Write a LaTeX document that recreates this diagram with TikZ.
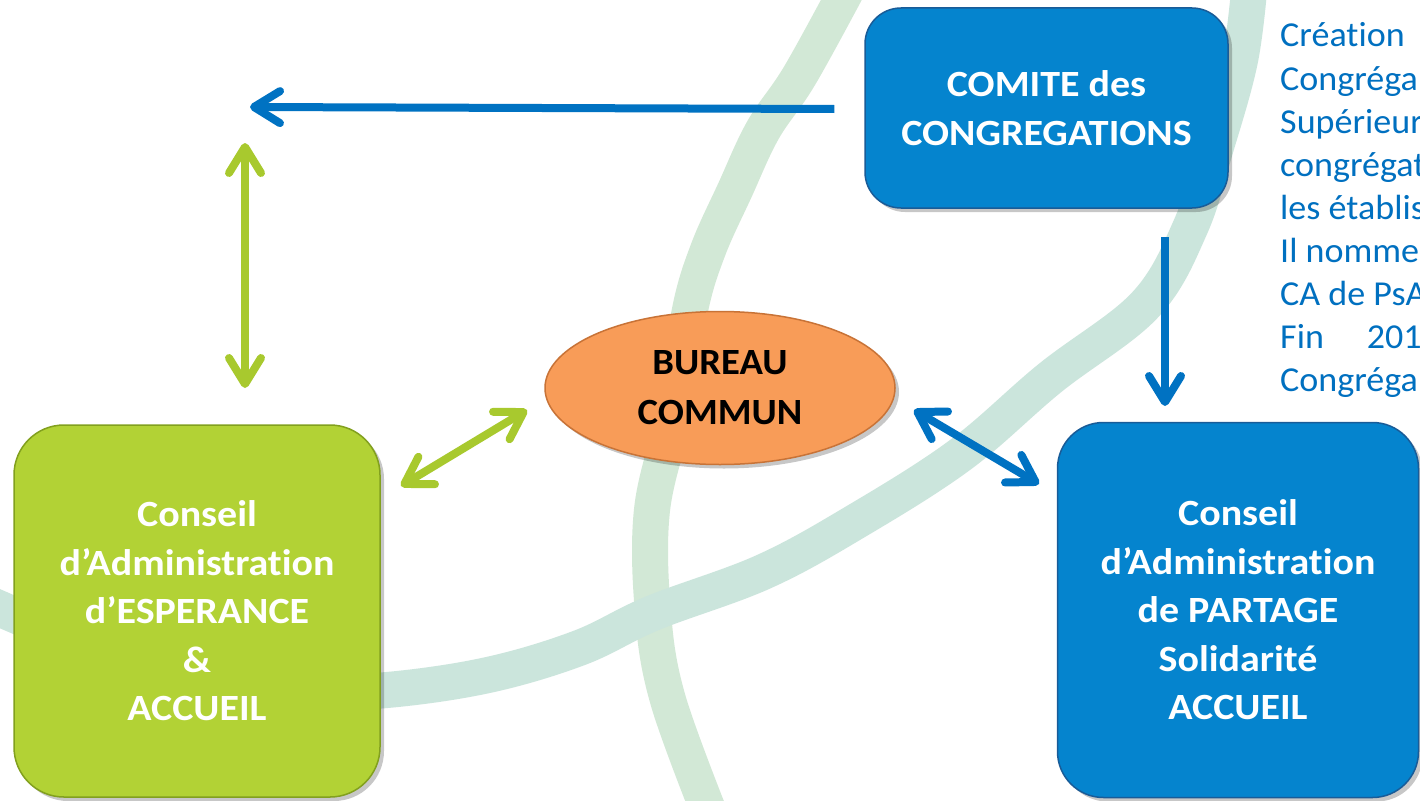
\documentclass[tikz,border=0pt]{standalone}
\usepackage{fontspec}
\setmainfont{Carlito}[Ligatures={NoCommon,NoContextual}]
\newfontfamily\boxfont{Carlito}[Ligatures={NoCommon,NoContextual}, FakeStretch=1.08]
\newfontfamily\ovalfont{Carlito}[Ligatures={NoCommon,NoContextual}, FakeStretch=1.045]
\newfontfamily\sidefont{Carlito}[Ligatures={NoCommon,NoContextual}, FakeStretch=1.03]
\usetikzlibrary{arrows.meta,shapes.geometric,shadows,calc}
\definecolor{bluebox}{RGB}{5,132,206}
\definecolor{blueedge}{RGB}{25,92,152}
\definecolor{greenbox}{RGB}{178,210,53}
\definecolor{greenedge}{RGB}{130,160,30}
\definecolor{orangefill}{RGB}{248,156,88}
\definecolor{orangeedge}{RGB}{200,115,55}
\definecolor{arrowblue}{RGB}{0,114,194}
\definecolor{arrowgreen}{RGB}{168,201,46}
\definecolor{textblue}{RGB}{0,112,192}
\definecolor{strokeA}{RGB}{210,232,214}
\definecolor{strokeB}{RGB}{203,229,220}
\begin{document}
\begin{tikzpicture}[x=1pt,y=-1pt,
  boxtext/.style={font=\boxfont\bfseries\fontsize{37}{48.5}\selectfont, align=center, inner sep=0pt},
  shadowed/.style={drop shadow={shadow xshift=4pt,shadow yshift=-4pt,opacity=0.22,fill=black}},
  greenstyle/.style={boxtext, text=white, rectangle, fill=greenbox, draw=greenedge, line width=1.5pt, shadowed},
  bluestyle/.style={boxtext, text=white, rectangle, fill=bluebox, draw=blueedge, line width=1.5pt, shadowed},
  ovalstyle/.style={font=\ovalfont\bfseries\fontsize{37}{50}\selectfont, align=center, inner sep=0pt, text=black, ellipse, fill=orangefill, draw=orangeedge, line width=1.5pt, shadowed},
  tip/.tip={Straight Barb[round,length=26pt,width=32pt]},
  bluearr/.style={draw=arrowblue, line width=8pt, line cap=round},
  greenarr/.style={draw=arrowgreen, line width=8pt, line cap=round},
  bgstroke/.style={line width=36pt, line cap=round, line join=round},
  sidetext/.style={anchor=base west, inner sep=0pt, font=\sidefont\fontsize{35}{43}\selectfont, text=textblue}
]
\useasboundingbox (0,0) rectangle (1420,800);
\clip (0,0) rectangle (1420,800);
\fill[white] (0,0) rectangle (1420,800);

% background brush strokes
\draw[bgstroke, draw=strokeA] plot[smooth, tension=0.6] coordinates {(852,-20) (800,75) (763,130) (735,190) (708,250) (690,310) (675,410) (652,510) (653,613) (668,700) (712,820)};
\draw[bgstroke, draw=strokeB] plot[smooth, tension=0.6] coordinates {(-20,600) (100,650) (200,680) (300,692) (387,690) (488,675) (579,648) (653,613) (763,572) (855,522) (960,455) (1050,378) (1145,305) (1190,228) (1215,150) (1240,60) (1250,-20)};

% nodes
\node[greenstyle, minimum width=366pt, minimum height=372pt, rounded corners=50pt] (esp) at (197,611)
  {Conseil\\d’Administration\\d’ESPERANCE\\\&\\ACCUEIL};
\node[bluestyle, minimum width=361pt, minimum height=375pt, rounded corners=46pt] (partage) at (1238,610)
  {Conseil\\d’Administration\\de PARTAGE\\Solidarité\\ACCUEIL};
\node[bluestyle, minimum width=363pt, minimum height=200pt, rounded corners=36pt] (comite) at (1046.5,108)
  {COMITE des\\CONGREGATIONS};
\node[ovalstyle, minimum width=350pt, minimum height=153pt] (bureau) at (720,388)
  {BUREAU\\COMMUN};

% free ends
\coordinate (topend) at (250,107);
\coordinate (vtop) at (245,143);
\coordinate (vbot) at (245,388);
\coordinate (downstart) at (1165,237);
\coordinate (downend) at (1165,406);
\coordinate (gdA) at (401,486);
\coordinate (gdB) at (527,410);
\coordinate (bdA) at (914,410);
\coordinate (bdB) at (1039,484);

% connectors
\draw[bluearr, line cap=butt, -{tip}] ([xshift=-30pt,yshift=-1pt]comite.west) -- (topend);
\draw[bluearr, line cap=butt, -{tip}] (downstart) -- (downend);
\draw[greenarr, {tip}-{tip}] (vtop) -- (vbot);
\draw[greenarr, {tip}-{tip}] (gdA) -- (gdB);
\draw[bluearr, {tip}-{tip}] (bdA) -- (bdB);

% side text (cut off by the page edge)
\foreach \t [count=\i] in {Création,Congréga,Supérieur,congrégat,les établis,Il nomme,CA de PsA,Fin\hspace*{43pt}201,Congréga}
  \node[sidetext] (t\i) at (1280,{47+43*(\i-1)}) {\t};
\end{tikzpicture}
\end{document}
